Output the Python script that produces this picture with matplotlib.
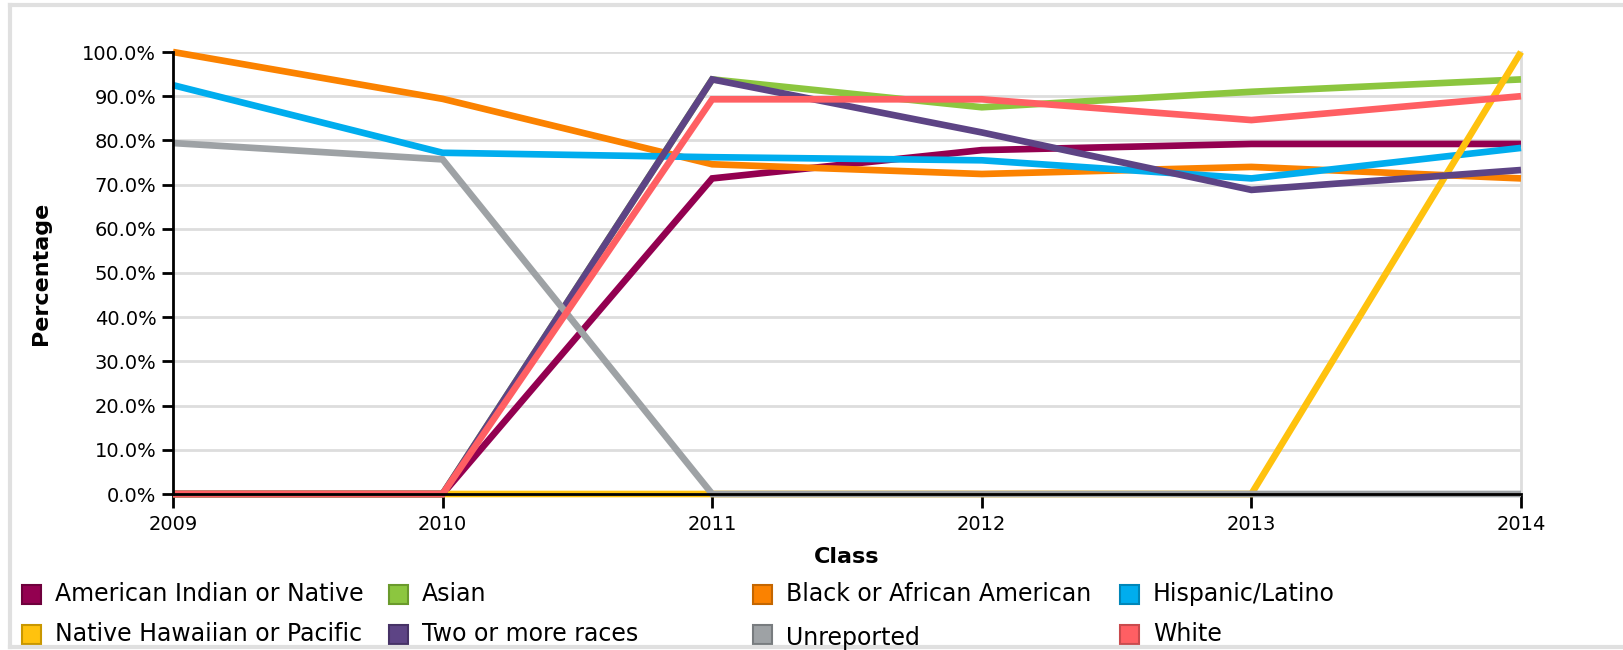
import matplotlib.pyplot as plt
from matplotlib.patches import Rectangle
from matplotlib.lines import Line2D
from matplotlib.ticker import FuncFormatter

years = [2009, 2010, 2011, 2012, 2013, 2014]

series_names = ['American Indian or Native', 'Asian', 'Black or African American', 'Hispanic/Latino',
                'Native Hawaiian or Pacific', 'Two or more races', 'Unreported', 'White']
american_indian = [0, 0, 71.4, 77.8, 79.2, 79.2]
asian = [0, 0, 93.8, 87.5, 91.0, 93.8]
black = [100, 89.4, 74.6, 72.4, 74.0, 71.4]
hispanic = [92.5, 77.2, 76.2, 75.5, 71.4, 78.3]
native_hawaiian = [0, 0, 0, 0, 0, 100]
two_or_more = [0, 0, 93.8, 81.8, 68.8, 73.3]
unreported = [79.4, 75.7, 0, 0, 0, 0]
white = [0, 0, 89.3, 89.3, 84.6, 90.0]

series_values = [american_indian, asian, black, hispanic, native_hawaiian, two_or_more, unreported, white]
colors = ['#930050', '#8cc63f', '#fb8200', '#00adee', '#ffc20e', '#5d4485', '#9ea2a5', '#ff5f63']
edge_colors = ['#6e003c', '#6a9a2c', '#c46600', '#0086b8', '#c99700', '#463266', '#787c7f', '#c94a4d']

fig = plt.figure(figsize=(16.23, 6.5), dpi=100)
ax = fig.add_axes([173 / 1623, 156 / 650, (1521 - 173) / 1623, (494 - 52) / 650])

for vals, c in zip(series_values, colors):
    ax.plot(years, vals, color=c, linewidth=4.8, clip_on=False, zorder=2,
            solid_joinstyle='miter', solid_capstyle='butt')

ax.set_xlim(2009, 2014)
ax.set_ylim(0, 100)
ax.set_yticks(range(0, 101, 10))
ax.yaxis.set_major_formatter(FuncFormatter(lambda v, p: '%.1f%%' % v))
ax.set_xticks(years)
ax.grid(axis='y', color='#dddddd', linewidth=2)
ax.set_axisbelow(True)

for s in ['left', 'bottom']:
    ax.spines[s].set_color('black')
    ax.spines[s].set_linewidth(2)
    ax.spines[s].set_zorder(3)
ax.spines['top'].set_visible(False)
ax.spines['right'].set_color('#dddddd')
ax.spines['right'].set_linewidth(2)
ax.spines['right'].set_zorder(1)

ax.tick_params(axis='y', length=8, width=2, labelsize=14, pad=4)
ax.tick_params(axis='x', length=10, width=2, labelsize=14, pad=5, direction='out')

fig.text(41 / 1623, 1 - 273 / 650, 'Percentage', rotation=90, fontsize=16, fontweight='bold',
         ha='center', va='center')
fig.text((173 + 1521) / 2 / 1623, 1 - 557 / 650, 'Class', fontsize=16, fontweight='bold',
         ha='center', va='center')

# legend, drawn by hand on a 4 x 2 grid
col_x = [22, 389, 753, 1120]
row_y = [594, 634]
for i, name in enumerate(series_names):
    x0 = col_x[i % 4]
    y0 = row_y[i // 4]
    fig.patches.append(Rectangle((x0 / 1623, 1 - (y0 + 10) / 650), 19 / 1623, 19 / 650,
                                 transform=fig.transFigure, facecolor=colors[i],
                                 edgecolor=edge_colors[i], linewidth=1.5))
    dy = 4 if name == 'Unreported' else 0
    fig.text((x0 + 33) / 1623, 1 - (y0 + dy) / 650, name, fontsize=17, ha='left', va='center')

# light frame round the chart
for xs, ys in [([10, 1623], [5, 5]), ([10, 10], [5, 647]), ([10, 1623], [647, 647])]:
    fig.lines.append(Line2D([x / 1623 for x in xs], [1 - y / 650 for y in ys],
                            transform=fig.transFigure, color='#e0e0e0', linewidth=3))

fig.savefig('out.png', dpi=100)
